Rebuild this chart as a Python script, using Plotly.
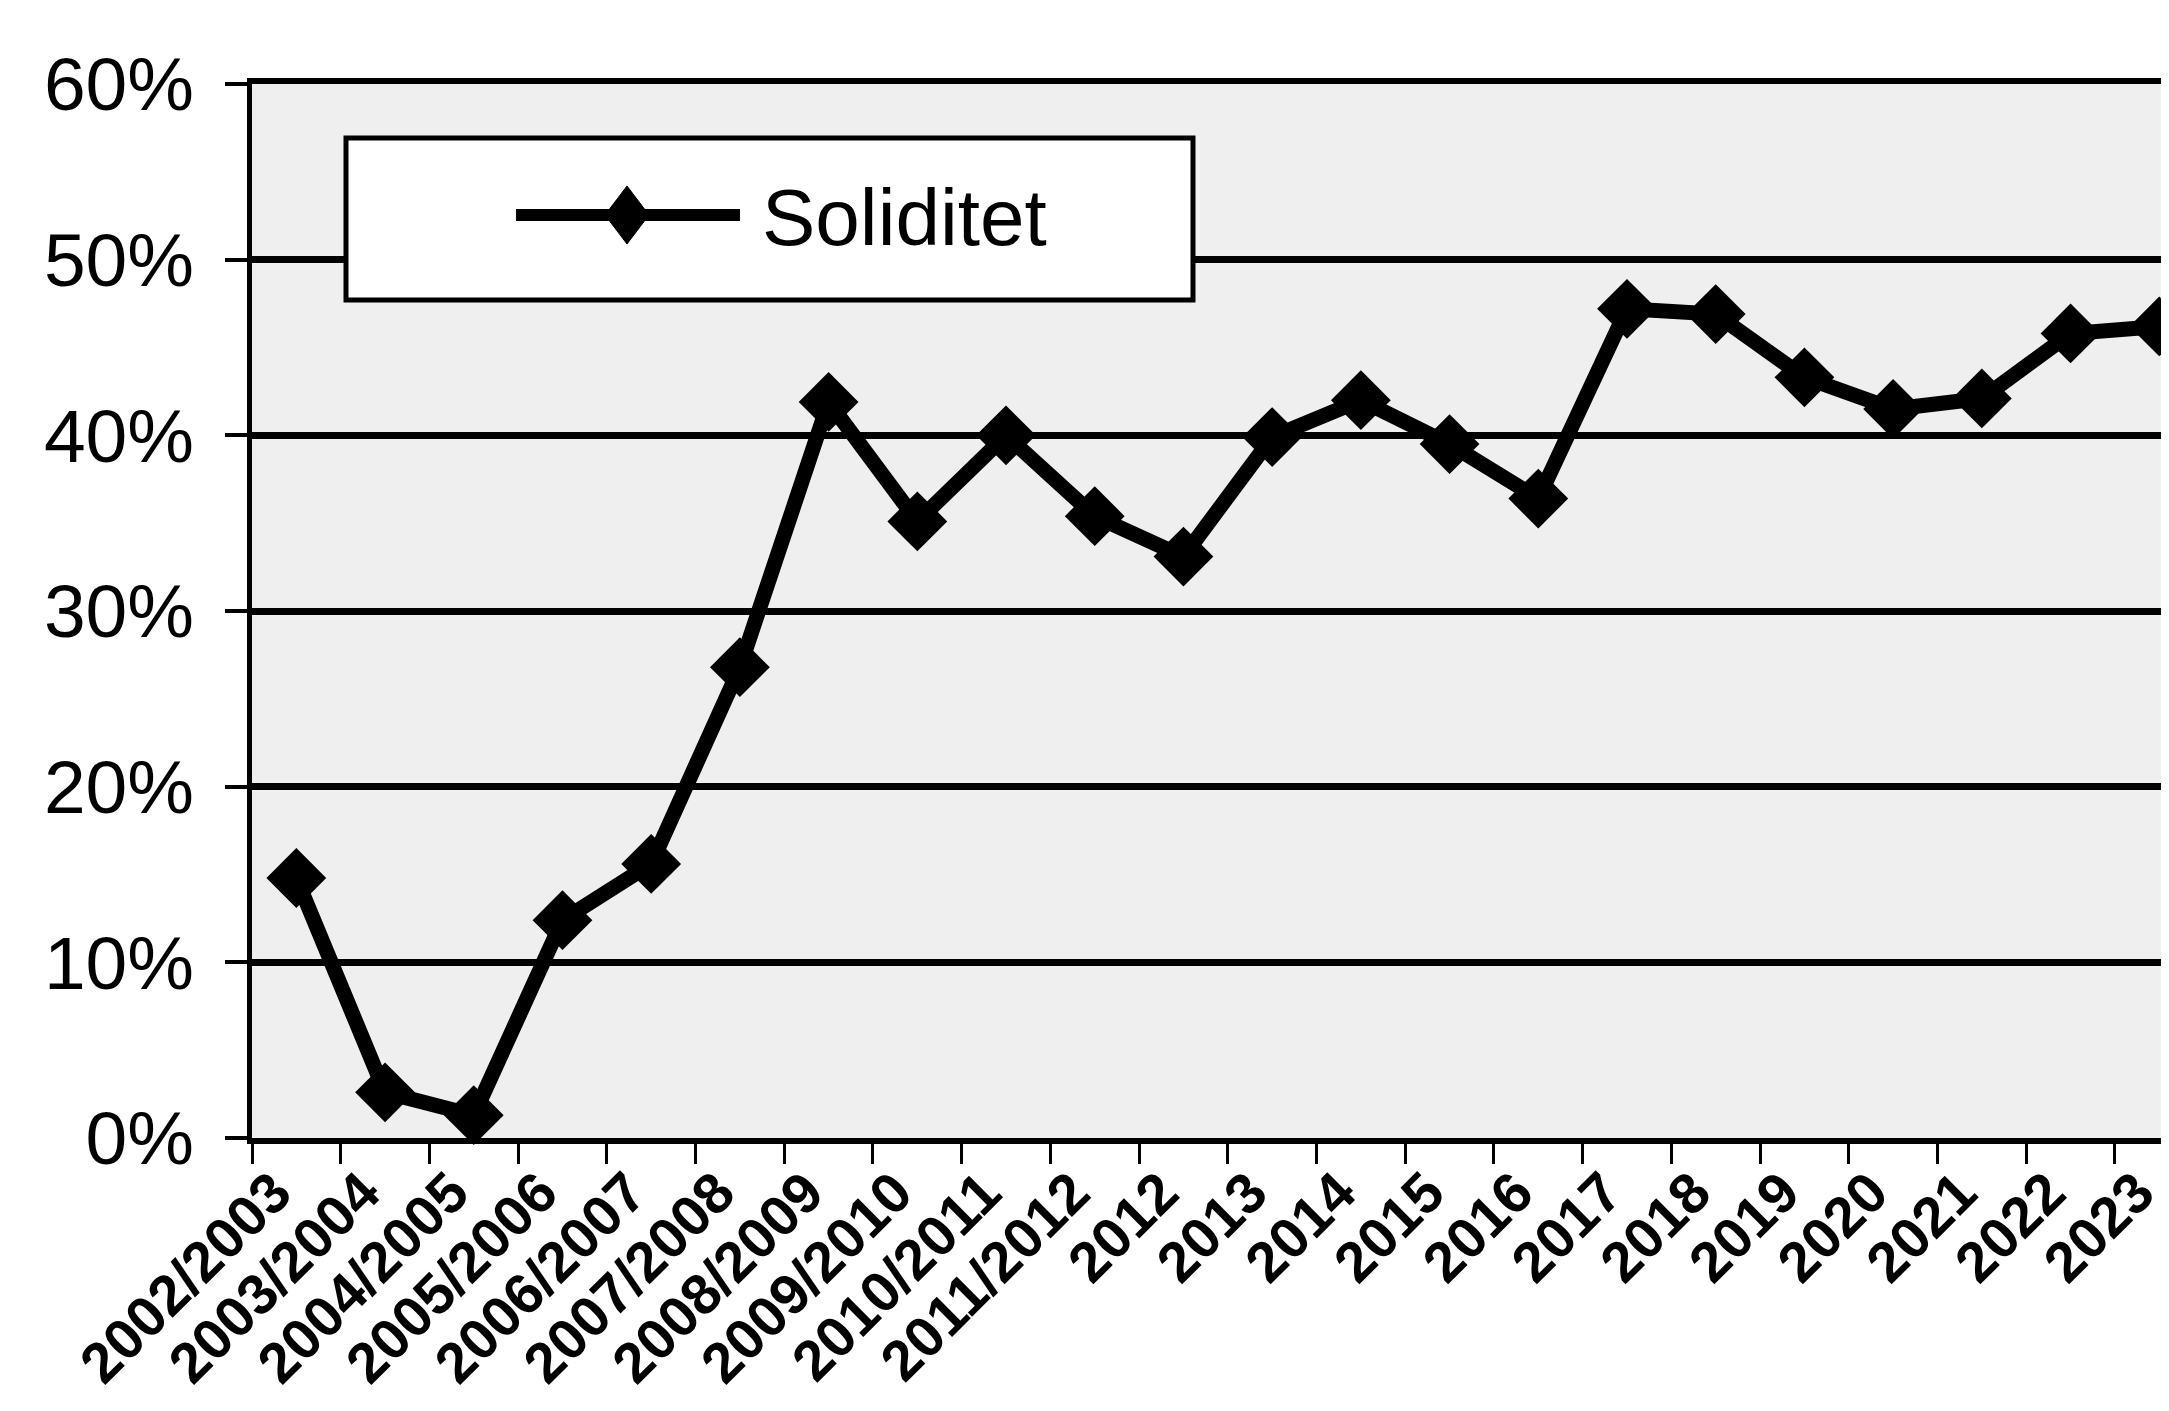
import plotly.graph_objects as go

# ---- data ----
categories = ["2002/2003", "2003/2004", "2004/2005", "2005/2006", "2006/2007",
              "2007/2008", "2008/2009", "2009/2010", "2010/2011", "2011/2012",
              "2012", "2013", "2014", "2015", "2016", "2017", "2018", "2019",
              "2020", "2021", "2022", "2023"]
soliditet = [14.8, 2.6, 1.3, 12.4, 15.6, 26.8, 41.9, 35.1, 40.0, 35.4,
             33.1, 39.9, 42.0, 39.5, 36.4, 47.2, 46.9, 43.3, 41.5, 42.1,
             45.8, 46.2]
series_name = "Soliditet"
y_tick_vals = [0, 10, 20, 30, 40, 50, 60]
y_tick_text = ["0%", "10%", "20%", "30%", "40%", "50%", "60%"]

W, H = 2169, 1411
ML, MR, MT, MB = 244, 0, 76, 281
FONT = "Liberation Sans, Arial, Helvetica, sans-serif"

fig = go.Figure()
fig.add_trace(go.Scatter(
    x=categories, y=soliditet, name=series_name, mode="lines+markers",
    line=dict(color="black", width=15),
    marker=dict(symbol="diamond", size=46, color="black"),
    cliponaxis=False, showlegend=False,
))

# manual legend (pixel -> paper helpers)
pw, ph = W - ML - MR, H - MT - MB
def px(x):
    return (x - ML) / pw
def py(y):
    return (H - MB - y) / ph

shapes = [
    dict(type="rect", xref="paper", yref="paper",
         x0=px(338), x1=px(1185), y0=py(292), y1=py(130),
         line=dict(color="black", width=5), fillcolor="white", layer="above"),
    dict(type="line", xref="paper", yref="paper",
         x0=px(508), x1=px(732), y0=py(207), y1=py(207),
         line=dict(color="black", width=12), layer="above"),
    dict(type="path", xref="paper", yref="paper",
         path=(f"M {px(619)},{py(178)} L {px(641)},{py(207)} "
               f"L {px(619)},{py(236)} L {px(597)},{py(207)} Z"),
         fillcolor="black", line=dict(color="black", width=1), layer="above"),
]
annotations = [
    dict(text=series_name, xref="paper", yref="paper", x=px(752), y=py(209),
         xanchor="left", yanchor="middle", showarrow=False,
         font=dict(family=FONT, size=80, color="black")),
]

fig.update_layout(
    width=W, height=H,
    margin=dict(l=ML, r=MR, t=MT, b=MB, pad=0),
    paper_bgcolor="white", plot_bgcolor="#efefef",
    font=dict(family=FONT, color="black"),
    shapes=shapes, annotations=annotations,
    showlegend=False,
)
fig.update_xaxes(
    type="category", range=[-0.5, 21.2], automargin=False,
    showline=True, mirror=True, linecolor="black", linewidth=6,
    ticks="outside", tickson="boundaries", ticklen=20, tickwidth=3, tickcolor="black",
    tickangle=-45, tickfont=dict(family=FONT, size=57, color="black", weight="bold"),
    ticklabelstandoff=-8, ticklabelshift=-22,
    showgrid=False, zeroline=False,
)
fig.update_yaxes(
    range=[0, 60], tickvals=y_tick_vals, ticktext=y_tick_text, automargin=False,
    showline=True, linecolor="black", linewidth=5,
    ticks="outside", ticklen=22, tickwidth=4, tickcolor="black",
    tickfont=dict(family=FONT, size=75, color="black"),
    ticklabelstandoff=16,
    showgrid=True, gridcolor="black", gridwidth=7, zeroline=False,
)

fig.write_html("out.html")
